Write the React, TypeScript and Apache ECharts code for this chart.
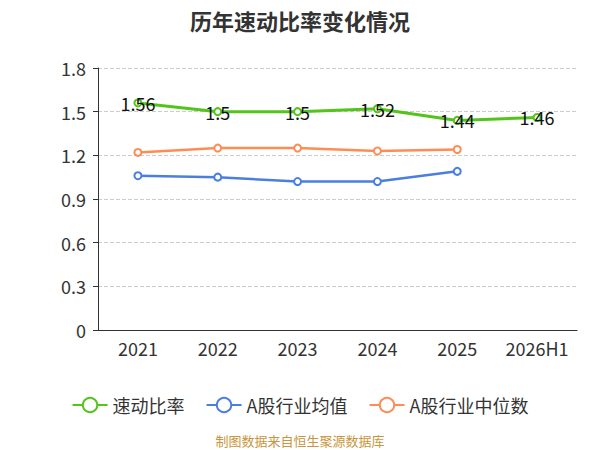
import React, { useEffect, useRef } from "react";
import * as echarts from "echarts";

const categories = ["2021", "2022", "2023", "2024", "2025", "2026H1"];
const quickRatio = [1.56, 1.5, 1.5, 1.52, 1.44, 1.46];
const industryAvg = [1.06, 1.05, 1.02, 1.02, 1.09];
const industryMedian = [1.22, 1.25, 1.25, 1.23, 1.24];

export default function App() {
  const ref = useRef<HTMLDivElement>(null);
  useEffect(() => {
    if (!ref.current) return;
    const chart = echarts.init(ref.current, null, { renderer: "svg" });
    const font = "'Noto Sans CJK SC', 'Noto Sans', sans-serif";
    chart.setOption({
      animation: false,
      backgroundColor: "#fff",
      textStyle: { fontFamily: font },
      title: {
        text: "历年速动比率变化情况",
        left: "center",
        top: 4,
        textStyle: { fontSize: 22, fontWeight: "bold", color: "#333", fontFamily: font },
      },
      grid: { left: 98, right: 23, top: 68, bottom: 120 },
      legend: {
        top: 391,
        left: "center",
        itemWidth: 35,
        itemHeight: 18,
        itemGap: 21,
        textStyle: { fontSize: 18, color: "#333", fontFamily: font },
        data: ["速动比率", "A股行业均值", "A股行业中位数"],
      },
      graphic: [
        {
          type: "text",
          left: "center",
          top: 434,
          style: {
            text: "制图数据来自恒生聚源数据库",
            fill: "#c8963c",
            fontSize: 13,
            fontFamily: font,
          },
        },
      ],
      xAxis: {
        type: "category",
        data: categories,
        axisLine: { lineStyle: { color: "#333" } },
        axisTick: { interval: 0, lineStyle: { color: "#333" } },
        axisLabel: { interval: 0, fontSize: 18, color: "#333", margin: 9 },
      },
      yAxis: {
        type: "value",
        min: 0,
        max: 1.8,
        interval: 0.3,
        axisLine: { show: true, lineStyle: { color: "#333" } },
        axisTick: { show: true, lineStyle: { color: "#333" } },
        axisLabel: { fontSize: 18, color: "#333", margin: 12 },
        splitLine: { lineStyle: { type: "dashed", color: "#ccc" } },
      },
      series: [
        {
          name: "速动比率",
          type: "line",
          data: quickRatio,
          color: "#52c41a",
          symbol: "emptyCircle",
          symbolSize: 7,
          lineStyle: { width: 3 },
          label: { show: true, position: "inside", fontSize: 18, color: "#111" },
        },
        {
          name: "A股行业均值",
          type: "line",
          data: industryAvg,
          color: "#4a7fe0",
          symbol: "emptyCircle",
          symbolSize: 7,
          lineStyle: { width: 2.5 },
        },
        {
          name: "A股行业中位数",
          type: "line",
          data: industryMedian,
          color: "#ff8c55",
          symbol: "emptyCircle",
          symbolSize: 7,
          lineStyle: { width: 2.5 },
        },
      ],
    });
    return () => chart.dispose();
  }, []);
  return (
    <div
      ref={ref}
      style={{ position: "fixed", left: 0, top: 0, width: 600, height: 450 }}
    />
  );
}
